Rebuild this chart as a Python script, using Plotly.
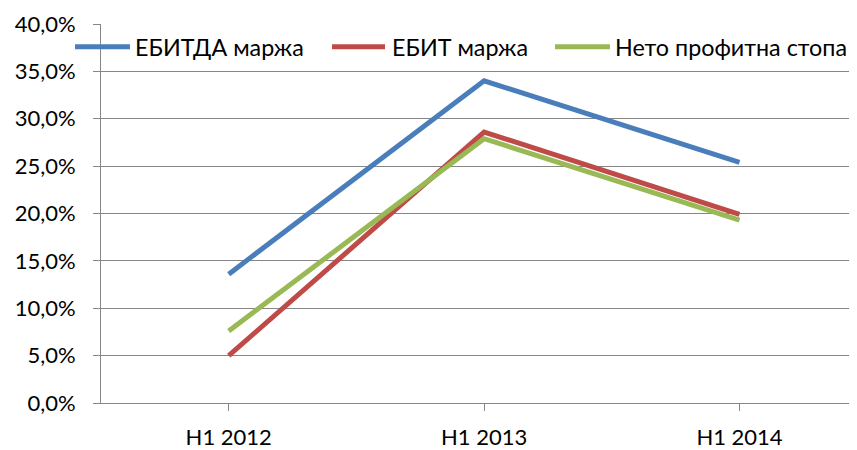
import plotly.graph_objects as go

categories = ["H1 2012", "H1 2013", "H1 2014"]
ebitda = [0.136, 0.340, 0.254]
ebit = [0.050, 0.286, 0.199]
net = [0.076, 0.279, 0.193]
names = ["ЕБИТДА маржа", "ЕБИТ маржа", "Нето профитна стопа"]
colors = ["#4A7EBB", "#BE4B48", "#98B954"]

FONT = "Lato"
OFF = 8  # page body margin
FW, FH = 857 - OFF, 450 - OFF
L, T, H = 101 - OFF, 24 - OFF, 383
W = FW - L

def px_x(p):
    return (p - OFF - L) / W

def px_y(p):
    return (T + H - (p - OFF)) / H

fig = go.Figure()
for name, vals, c in zip(names, [ebitda, ebit, net], colors):
    fig.add_trace(go.Scatter(x=[0, 1, 2], y=vals, mode="lines", name=name,
                             line=dict(color=c, width=5), showlegend=False))

# custom legend (line sample + label), laid out like the reference
legend_pos = [(75, 130, 133), (332, 385, 390), (555, 610, 613)]
ly = px_y(47)
for (x0, x1, xt), name, c in zip(legend_pos, names, colors):
    fig.add_shape(type="line", xref="paper", yref="paper", x0=px_x(x0), x1=px_x(x1),
                  y0=ly, y1=ly, line=dict(color=c, width=5))
    fig.add_annotation(xref="paper", yref="paper", x=px_x(xt), y=ly, text=name,
                       showarrow=False, xanchor="left", yanchor="middle",
                       font=dict(family=FONT, size=23.3, color="#000000"))

fig.update_layout(
    width=FW, height=FH,
    margin=dict(l=L, r=0, t=T, b=FH - T - H, pad=0),
    paper_bgcolor="white", plot_bgcolor="white",
    separators=", ",
    font=dict(family=FONT, size=22, color="#000000"),
    showlegend=False,
    xaxis=dict(range=[-0.5, 2.46], tickmode="array", tickvals=[0, 1, 2], ticktext=categories,
               showgrid=False, zeroline=False, showline=True, linecolor="#868686", linewidth=1,
               ticks="outside", tickson="boundaries", ticklen=7, tickcolor="#868686",
               ticklabelstandoff=8, tickfont=dict(family=FONT, size=22)),
    yaxis=dict(range=[0, 0.4], tickvals=[0, 0.05, 0.1, 0.15, 0.2, 0.25, 0.3, 0.35, 0.4],
               tickformat=".1%", showgrid=True, gridcolor="#868686", gridwidth=1,
               zeroline=False, showline=True, linecolor="#868686", linewidth=1,
               ticks="outside", ticklen=7, tickcolor="#868686",
               ticklabelstandoff=13, tickfont=dict(family=FONT, size=22)),
)
fig.write_html("out.html")
